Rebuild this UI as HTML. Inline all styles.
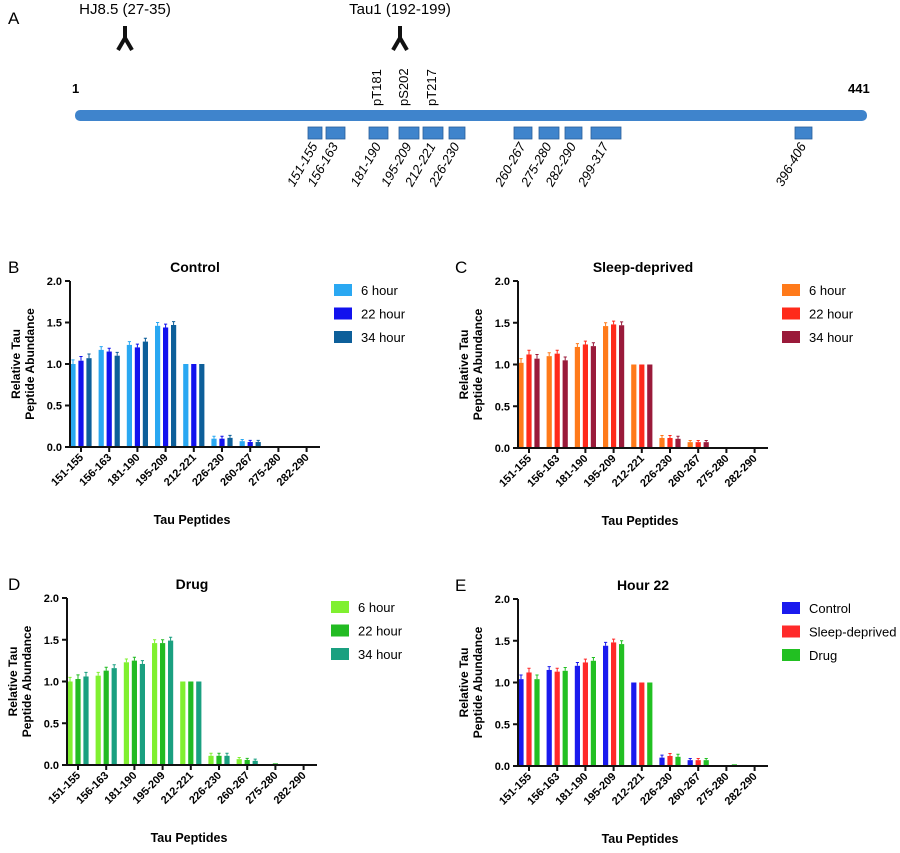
<!DOCTYPE html>
<html><head><meta charset="utf-8"><style>
body{margin:0;background:#fff;font-family:"Liberation Sans",Arial,sans-serif}
svg text{font-family:"Liberation Sans",Arial,sans-serif}
</style></head><body>
<svg id="fig" width="900" height="848" viewBox="0 0 900 848" xmlns="http://www.w3.org/2000/svg">
<g id="panelA">
<text x="8" y="24" font-size="17">A</text>
<text x="125" y="14" font-size="15" text-anchor="middle">HJ8.5 (27-35)</text>
<text x="400" y="14" font-size="15" text-anchor="middle">Tau1 (192-199)</text>
<path d="M125 26 L125 38 L118 50 M125 38 L132 50" stroke="#111" stroke-width="4" fill="none"/>
<path d="M400 26 L400 38 L393 50 M400 38 L407 50" stroke="#111" stroke-width="4" fill="none"/>
<text x="72" y="93" font-size="13" font-weight="bold">1</text>
<text x="848" y="93" font-size="13" font-weight="bold">441</text>
<rect x="75" y="110" width="792" height="11" rx="5" fill="#3f84cc"/>
<text transform="translate(381,106) rotate(-90)" font-size="13">pT181</text>
<text transform="translate(408,106) rotate(-90)" font-size="13">pS202</text>
<text transform="translate(436,106) rotate(-90)" font-size="13">pT217</text>
</g>
<g id="charts"></g>
</svg>
<script>
const categories=["151-155","156-163","181-190","195-209","212-221","226-230","260-267","275-280","282-290"];
const yTicks=[0,0.5,1.0,1.5,2.0];
const ctrl6=[1.0,1.17,1.23,1.46,1.0,0.10,0.07,0.01,0.005];
const ctrl22=[1.04,1.15,1.2,1.44,1.0,0.10,0.06,0.005,0.003];
const ctrl34=[1.07,1.1,1.27,1.47,1.0,0.11,0.06,0.005,0.003];
const sd6=[1.02,1.1,1.21,1.46,1.0,0.12,0.07,0.01,0.005];
const sd22=[1.12,1.13,1.24,1.48,1.0,0.12,0.07,0.01,0.005];
const sd34=[1.07,1.05,1.22,1.47,1.0,0.11,0.07,0.005,0.003];
const drug6=[1.0,1.07,1.23,1.46,1.0,0.11,0.07,0.01,0.005];
const drug22=[1.03,1.13,1.25,1.46,1.0,0.11,0.06,0.02,0.005];
const drug34=[1.06,1.16,1.21,1.49,1.0,0.11,0.05,0.005,0.003];
const h22ctrl=[1.04,1.15,1.2,1.44,1.0,0.10,0.07,0.005,0.003];
const h22sd=[1.12,1.13,1.24,1.48,1.0,0.12,0.07,0.01,0.005];
const h22drug=[1.04,1.14,1.26,1.46,1.0,0.11,0.07,0.02,0.005];
const errCtrl=[0.05,0.04,0.04,0.04,0,0.03,0.02,0,0];
const mapPeptides=["151-155","156-163","181-190","195-209","212-221","226-230","260-267","275-280","282-290","299-317","396-406"];

const NS="http://www.w3.org/2000/svg";
function mk(tag,attrs,parent){const e=document.createElementNS(NS,tag);for(const k in attrs)e.setAttribute(k,attrs[k]);parent.appendChild(e);return e;}

// Panel A peptide boxes (schematic layout, not to scale)
const A=document.getElementById('panelA');
const boxLayout=[[308,14],[326,19],[369,19],[399,20],[423,20],[449,16],[514,18],[539,20],[565,17],[591,30],[795,17]];
mapPeptides.forEach((p,i)=>{
  const x1=boxLayout[i][0],w=boxLayout[i][1];
  const r=mk('rect',{x:x1,y:127,width:w,height:12,fill:'#3f84cc',stroke:'#2a5f9a','stroke-width':0.8},A);
  
  
  const t=mk('text',{transform:`translate(${x1+w/2+3},146) rotate(-60)`,'font-size':13,'font-style':'italic','text-anchor':'end'},A);
  t.textContent=p;
  
  
});

const G=document.getElementById('charts');
function panel(o){
  const g=mk('g',{},G);
  
  
  const ax=o.ax,y0=o.y0,y2=o.y2;
  const ys=v=>y0-(v/2)*(y0-y2);
  const xs=i=>ax+11+i*28.2;
  let t=mk('text',{x:o.lx,y:y2-8,'font-size':17},g);t.textContent=o.letter;
  
  t=mk('text',{x:ax+125,y:y2-9,'font-size':14,'font-weight':'bold','text-anchor':'middle'},g);t.textContent=o.title;
  
  const yc=(y0+y2)/2;
  t=mk('text',{transform:`translate(${ax-50},${yc}) rotate(-90)`,'font-size':12,'font-weight':'bold','text-anchor':'middle'},g);t.textContent='Relative Tau';
  
  t=mk('text',{transform:`translate(${ax-36},${yc}) rotate(-90)`,'font-size':12,'font-weight':'bold','text-anchor':'middle'},g);t.textContent='Peptide Abundance';
  
  o.series.forEach((s,si)=>{
    s.forEach((v,i)=>{
      const x=xs(i)+(si-1)*8-2.6;
      const r=mk('rect',{x:x,y:ys(v),width:5.2,height:y0-ys(v),fill:o.colors[si]},g);
      
      
      const e=errCtrl[i];
      if(e>0){const l=mk('path',{d:`M${x+2.6} ${ys(v)} V${ys(v+e)} M${x+1} ${ys(v+e)} H${x+4.2}`,stroke:o.colors[si],'stroke-width':1,fill:'none'},g);
        }
    });
  });
  let a=mk('path',{d:`M${ax} ${y2} V${y0} H${ax+250}`,stroke:'#111','stroke-width':2,fill:'none'},g);
  
  yTicks.forEach(v=>{
    const l=mk('path',{d:`M${ax-5} ${ys(v)} H${ax}`,stroke:'#111','stroke-width':2},g);
    
    const tt=mk('text',{x:ax-8,y:ys(v)+4,'font-size':11,'font-weight':'bold','text-anchor':'end'},g);tt.textContent=v.toFixed(1);
    
  });
  categories.forEach((c,i)=>{
    const l=mk('path',{d:`M${xs(i)} ${y0} V${y0+5}`,stroke:'#111','stroke-width':2},g);
    
    const tt=mk('text',{transform:`translate(${xs(i)+3},${y0+11}) rotate(-45)`,'font-size':11,'font-weight':'bold','text-anchor':'end'},g);tt.textContent=c;
    
  });
  t=mk('text',{x:ax+122,y:y0+77,'font-size':12.5,'font-weight':'bold','text-anchor':'middle'},g);t.textContent='Tau Peptides';
  
  o.labels.forEach((lb,si)=>{
    const ly=y2+3+si*23.5;
    const r=mk('rect',{x:ax+264,y:ly,width:18,height:12,fill:o.colors[si]},g);
    
    const tt=mk('text',{x:ax+291,y:ly+11,'font-size':13},g);tt.textContent=lb;
    
  });
}
panel({name:'control-chart',letter:'B',lx:8,title:'Control',ax:70,y0:447,y2:281,series:[ctrl6,ctrl22,ctrl34],colors:['#2aa8f2','#1212ee','#0d5f9a'],labels:['6 hour','22 hour','34 hour']});
panel({name:'sleep-deprived-chart',letter:'C',lx:455,title:'Sleep-deprived',ax:518,y0:448,y2:281,series:[sd6,sd22,sd34],colors:['#ff7a1a','#ff2a1a','#9a1a3a'],labels:['6 hour','22 hour','34 hour']});
panel({name:'drug-chart',letter:'D',lx:8,title:'Drug',ax:67,y0:765,y2:598,series:[drug6,drug22,drug34],colors:['#80f030','#22bb22','#1aa080'],labels:['6 hour','22 hour','34 hour']});
panel({name:'hour22-chart',letter:'E',lx:455,title:'Hour 22',ax:518,y0:766,y2:599,series:[h22ctrl,h22sd,h22drug],colors:['#1a1aee','#ff2a2a','#22c022'],labels:['Control','Sleep-deprived','Drug']});
</script>
</body></html>
